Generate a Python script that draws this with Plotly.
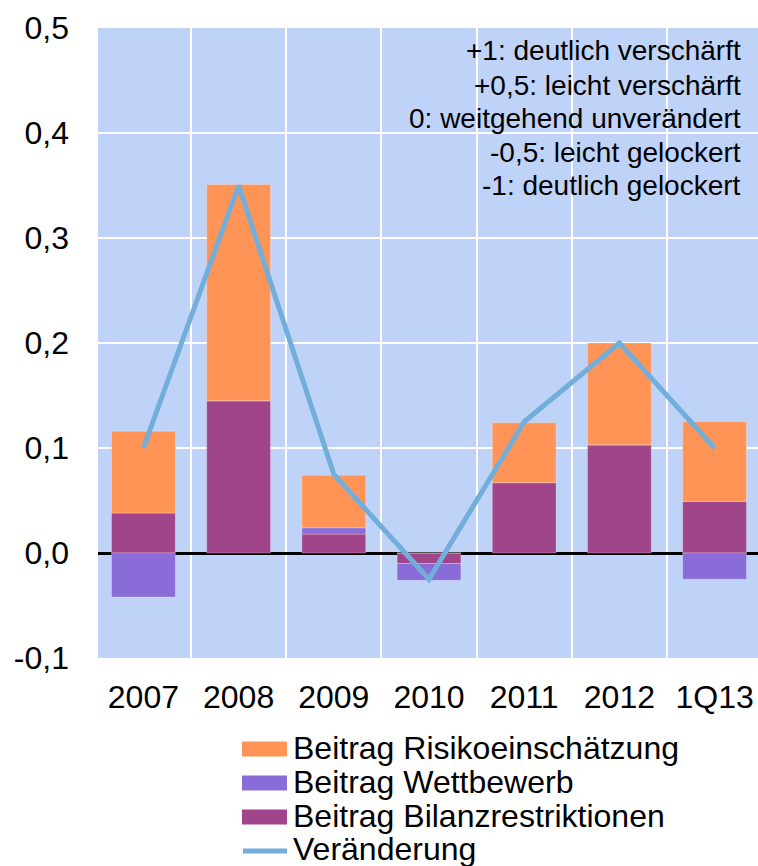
import plotly.graph_objects as go

categories = ["2007", "2008", "2009", "2010", "2011", "2012", "1Q13"]
bilanz = [0.038, 0.145, 0.018, -0.010, 0.067, 0.103, 0.049]
wettbewerb = [-0.042, 0.0, 0.006, -0.016, 0.0, 0.0, -0.025]
risiko = [0.078, 0.206, 0.050, 0.0, 0.057, 0.097, 0.076]
veraenderung = [0.1, 0.35, 0.075, -0.025, 0.125, 0.2, 0.1]

ytick_vals = [-0.1, 0.0, 0.1, 0.2, 0.3, 0.4, 0.5]
ytick_text = ["-0,1", "0,0", "0,1", "0,2", "0,3", "0,4", "0,5"]

note_lines = [
    "+1: deutlich verschärft",
    "+0,5: leicht verschärft",
    "0: weitgehend unverändert",
    "-0,5: leicht gelockert",
    "-1: deutlich gelockert",
]

names = ["Beitrag Risikoeinschätzung", "Beitrag Wettbewerb",
         "Beitrag Bilanzrestriktionen", "Veränderung"]

C_RISIKO = "#FF9456"
C_WETT = "#896CD8"
C_BILANZ = "#A1458A"
C_LINE = "#72AEDA"
C_BG = "#BFD3F9"
FONT = "Liberation Sans, Arial, sans-serif"

W, H = 758, 866
ML, MR, MT, MB = 98, 0, 28, 866 - 658

fig = go.Figure()
edge = dict(color="rgba(255,255,255,0.25)", width=1)
fig.add_trace(go.Bar(x=categories, y=bilanz, name=names[2], marker=dict(color=C_BILANZ, line=edge), width=0.67))
fig.add_trace(go.Bar(x=categories, y=wettbewerb, name=names[1], marker=dict(color=C_WETT, line=edge), width=0.67))
fig.add_trace(go.Bar(x=categories, y=risiko, name=names[0], marker=dict(color=C_RISIKO, line=edge), width=0.67))
fig.add_trace(go.Scatter(x=categories, y=veraenderung, name=names[3], mode="lines",
                         line=dict(color=C_LINE, width=5)))

fig.update_layout(
    width=W, height=H,
    margin=dict(l=ML, r=MR, t=MT, b=MB, pad=0),
    barmode="relative",
    plot_bgcolor=C_BG,
    paper_bgcolor="white",
    showlegend=False,
    font=dict(family=FONT, color="black", size=29),
)
fig.update_xaxes(
    type="category",
    range=[-0.477, 6.456],
    tickson="boundaries",
    showgrid=True, gridcolor="white", gridwidth=2,
    ticks="", showline=False, zeroline=False,
    tickfont=dict(size=32, family=FONT),
    ticklabelstandoff=17,
)
fig.update_yaxes(
    range=[-0.1, 0.5],
    tickvals=ytick_vals, ticktext=ytick_text,
    showgrid=True, gridcolor="white", gridwidth=2,
    zeroline=True, zerolinecolor="black", zerolinewidth=3,
    ticks="", showline=False,
    tickfont=dict(size=32, family=FONT),
    ticklabelstandoff=28,
)

def px_x(X):
    return (X - ML) / (W - ML - MR)

def px_y(Y):
    return (658 - Y) / (658 - MT)

# annotation block (explanatory note)
note_y = [51, 85, 118, 152, 185]
for txt, yy in zip(note_lines, note_y):
    fig.add_annotation(text=txt, xref="paper", yref="paper", x=px_x(743), y=px_y(yy),
                       xanchor="right", yanchor="middle", showarrow=False,
                       font=dict(size=28, family=FONT, color="black"))

# legend (custom, to match wide swatches)
leg_y = [748, 782, 816, 849]
leg_colors = [C_RISIKO, C_WETT, C_BILANZ]
for i, nm in enumerate(names):
    yy = leg_y[i]
    if i < 3:
        fig.add_shape(type="rect", xref="paper", yref="paper",
                      x0=px_x(242), x1=px_x(287), y0=px_y(yy + 8.5), y1=px_y(yy - 6.5),
                      fillcolor=leg_colors[i], line=dict(width=0))
    else:
        fig.add_shape(type="line", xref="paper", yref="paper",
                      x0=px_x(243), x1=px_x(287), y0=px_y(yy + 2), y1=px_y(yy + 2),
                      line=dict(color=C_LINE, width=5))
    fig.add_annotation(text=nm, xref="paper", yref="paper", x=px_x(291), y=px_y(yy),
                       xanchor="left", yanchor="middle", showarrow=False,
                       font=dict(size=32, family=FONT, color="black"))

fig.write_html("out.html", config={"displayModeBar": False},
               post_script="document.body.style.margin='0';")
